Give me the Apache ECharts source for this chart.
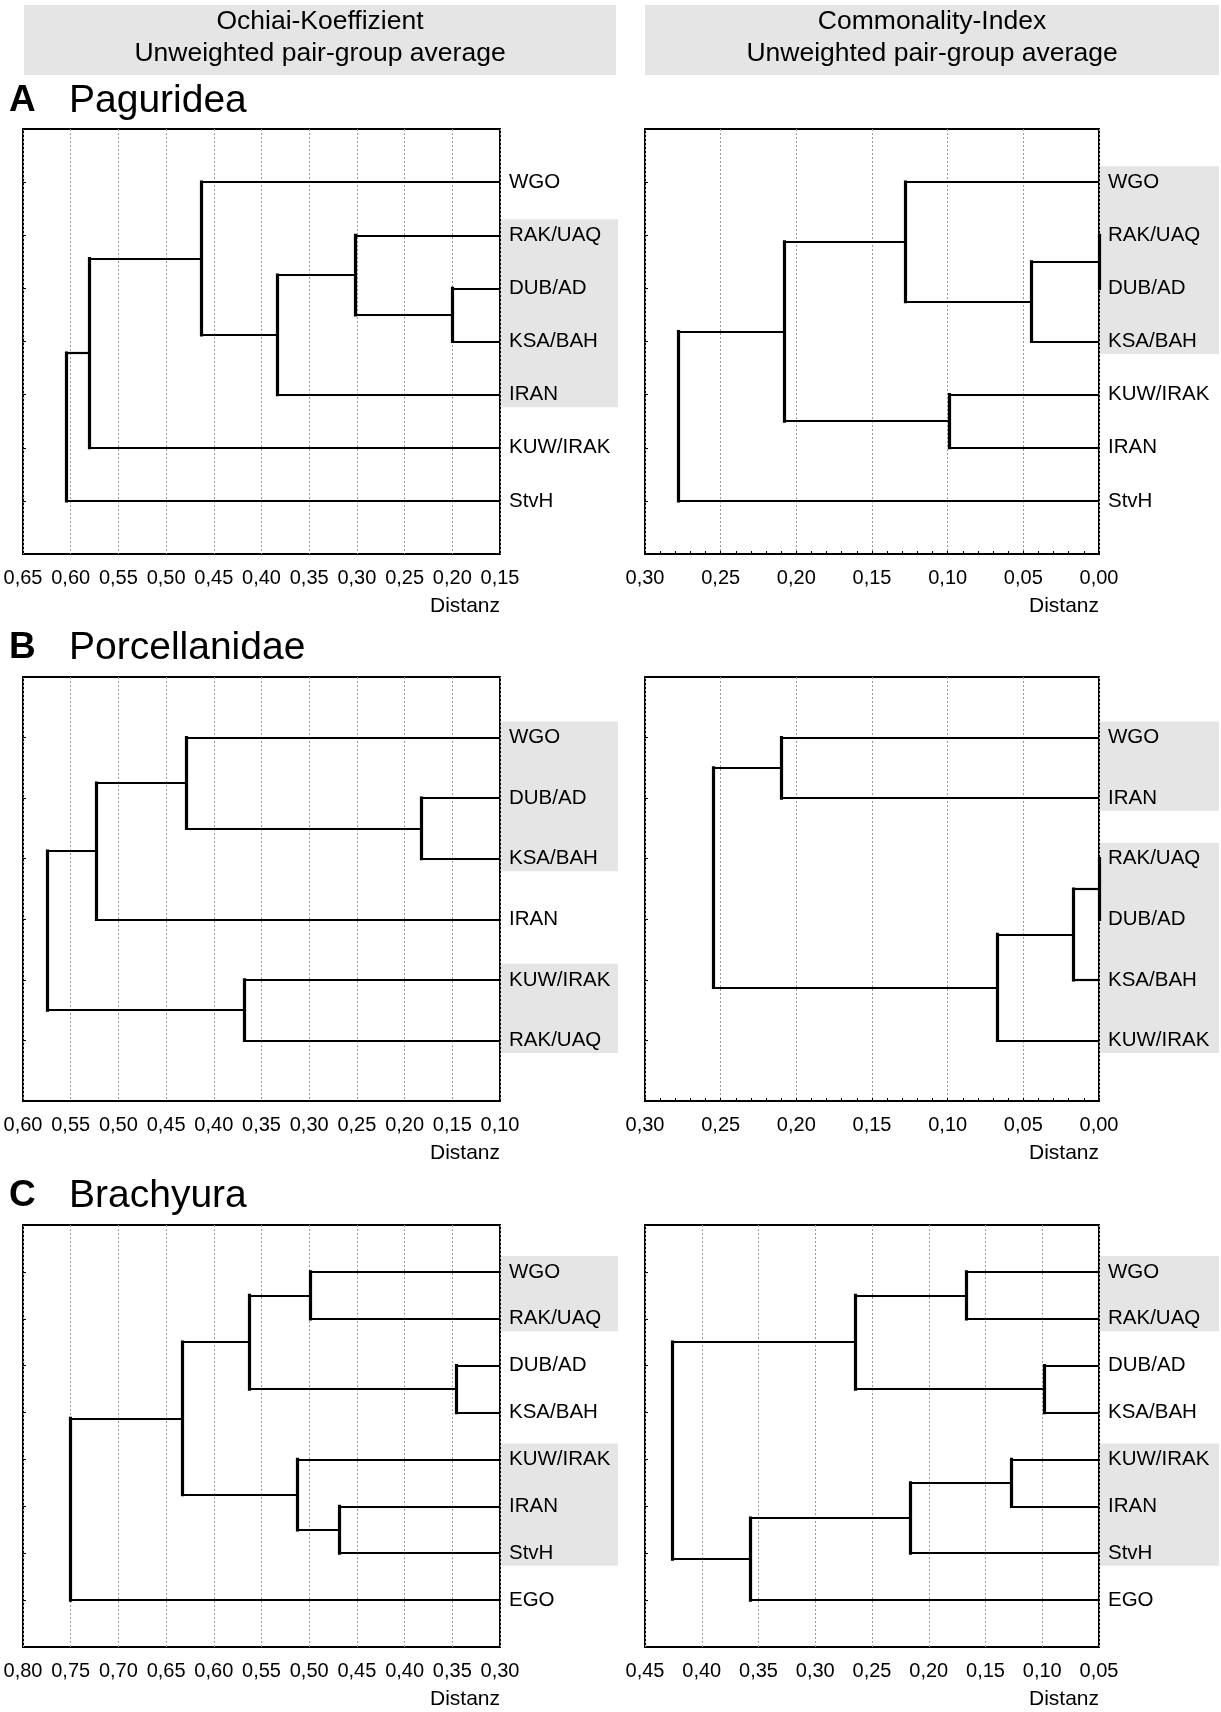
<!DOCTYPE html>
<html>
<head>
<meta charset="utf-8">
<script src="https://cdn.jsdelivr.net/npm/echarts@6/dist/echarts.min.js"></script>
<style>
  html, body { margin: 0; padding: 0; background: #fff; }
  #main { width: 1221px; height: 1712px; }
</style>
</head>
<body>
<div id="main"></div>
<script>
// ---- data: leaves listed top -> bottom, merges refer to leaf names or earlier merge index ----
// A Paguridea, Ochiai
var leavesAL = ['WGO', 'RAK/UAQ', 'DUB/AD', 'KSA/BAH', 'IRAN', 'KUW/IRAK', 'StvH'];
var pairsAL = [['DUB/AD', 'KSA/BAH'], ['RAK/UAQ', 0], [1, 'IRAN'], ['WGO', 2], [3, 'KUW/IRAK'], [4, 'StvH']];
var heightsAL = [0.200, 0.302, 0.383, 0.463, 0.581, 0.605];
var groupsAL = [[1, 4]];
var rangeAL = [0.15, 0.65];

// A Paguridea, Commonality
var leavesAR = ['WGO', 'RAK/UAQ', 'DUB/AD', 'KSA/BAH', 'KUW/IRAK', 'IRAN', 'StvH'];
var pairsAR = [['RAK/UAQ', 'DUB/AD'], [0, 'KSA/BAH'], ['WGO', 1], ['KUW/IRAK', 'IRAN'], [2, 3], [4, 'StvH']];
var heightsAR = [0.000, 0.045, 0.128, 0.099, 0.208, 0.278];
var groupsAR = [[0, 3]];
var rangeAR = [0.00, 0.30];

// B Porcellanidae, Ochiai
var leavesBL = ['WGO', 'DUB/AD', 'KSA/BAH', 'IRAN', 'KUW/IRAK', 'RAK/UAQ'];
var pairsBL = [['DUB/AD', 'KSA/BAH'], ['WGO', 0], [1, 'IRAN'], ['KUW/IRAK', 'RAK/UAQ'], [2, 3]];
var heightsBL = [0.183, 0.429, 0.523, 0.368, 0.575];
var groupsBL = [[0, 2], [4, 5]];
var rangeBL = [0.10, 0.60];

// B Porcellanidae, Commonality
var leavesBR = ['WGO', 'IRAN', 'RAK/UAQ', 'DUB/AD', 'KSA/BAH', 'KUW/IRAK'];
var pairsBR = [['RAK/UAQ', 'DUB/AD'], [0, 'KSA/BAH'], [1, 'KUW/IRAK'], ['WGO', 'IRAN'], [3, 2]];
var heightsBR = [0.000, 0.017, 0.067, 0.210, 0.255];
var groupsBR = [[0, 1], [2, 5]];
var rangeBR = [0.00, 0.30];

// C Brachyura, Ochiai
var leavesCL = ['WGO', 'RAK/UAQ', 'DUB/AD', 'KSA/BAH', 'KUW/IRAK', 'IRAN', 'StvH', 'EGO'];
var pairsCL = [['WGO', 'RAK/UAQ'], ['DUB/AD', 'KSA/BAH'], [0, 1], ['IRAN', 'StvH'], ['KUW/IRAK', 3], [2, 4], [5, 'EGO']];
var heightsCL = [0.499, 0.346, 0.563, 0.469, 0.513, 0.633, 0.750];
var groupsCL = [[0, 1], [4, 6]];
var rangeCL = [0.30, 0.80];

// C Brachyura, Commonality
var leavesCR = ['WGO', 'RAK/UAQ', 'DUB/AD', 'KSA/BAH', 'KUW/IRAK', 'IRAN', 'StvH', 'EGO'];
var pairsCR = [['WGO', 'RAK/UAQ'], ['DUB/AD', 'KSA/BAH'], [0, 1], ['KUW/IRAK', 'IRAN'], [3, 'StvH'], [4, 'EGO'], [2, 5]];
var heightsCR = [0.167, 0.098, 0.265, 0.127, 0.216, 0.357, 0.426];
var groupsCR = [[0, 1], [4, 6]];
var rangeCR = [0.05, 0.45];

var headLeft = ['Ochiai-Koeffizient', 'Unweighted pair-group average'];
var headRight = ['Commonality-Index', 'Unweighted pair-group average'];
var sections = [['A', 'Paguridea'], ['B', 'Porcellanidae'], ['C', 'Brachyura']];
var axisName = 'Distanz';

// ---- layout ----
var FONT = '"Liberation Sans", Arial, Helvetica, sans-serif';
var INK = '#000';
var panels = [
  { leaves: leavesAL, pairs: pairsAL, heights: heightsAL, groups: groupsAL, range: rangeAL, left: 23, width: 477, top: 129, height: 425, labelEnd: 618, minor: false },
  { leaves: leavesAR, pairs: pairsAR, heights: heightsAR, groups: groupsAR, range: rangeAR, left: 645, width: 454, top: 129, height: 425, labelEnd: 1219, minor: true },
  { leaves: leavesBL, pairs: pairsBL, heights: heightsBL, groups: groupsBL, range: rangeBL, left: 23, width: 477, top: 677, height: 424, labelEnd: 618, minor: false },
  { leaves: leavesBR, pairs: pairsBR, heights: heightsBR, groups: groupsBR, range: rangeBR, left: 645, width: 454, top: 677, height: 424, labelEnd: 1219, minor: true },
  { leaves: leavesCL, pairs: pairsCL, heights: heightsCL, groups: groupsCL, range: rangeCL, left: 23, width: 477, top: 1225, height: 422, labelEnd: 618, minor: false },
  { leaves: leavesCR, pairs: pairsCR, heights: heightsCR, groups: groupsCR, range: rangeCR, left: 645, width: 454, top: 1225, height: 422, labelEnd: 1219, minor: false }
];
var sectionY = [101, 648, 1196];

function buildTree(leaves, pairs, heights, leafX) {
  var nodes = leaves.map(function (n, i) { return { x: leafX, y: i + 1 }; });
  var merged = [];
  var hSegs = [], vSegs = [];
  pairs.forEach(function (p, k) {
    var kids = p.map(function (c) {
      return typeof c === 'number' ? merged[c] : nodes[leaves.indexOf(c)];
    });
    var h = heights[k];
    kids.forEach(function (c) {
      hSegs.push({ coords: [[h, c.y], [c.x, c.y]] });
    });
    vSegs.push({ coords: [[h, kids[0].y], [h, kids[1].y]] });
    merged.push({ x: h, y: (kids[0].y + kids[1].y) / 2 });
  });
  return { h: hSegs, v: vSegs };
}

var grids = [], xAxes = [], yAxes = [], series = [];
panels.forEach(function (p, i) {
  var n = p.leaves.length;
  grids.push({
    left: p.left, top: p.top, width: p.width, height: p.height,
    show: true, borderColor: '#000', borderWidth: 2, backgroundColor: 'transparent'
  });
  xAxes.push({
    type: 'value', gridIndex: i, inverse: true, position: 'bottom',
    min: p.range[0], max: p.range[1], interval: 0.05,
    axisLine: { show: false, onZero: false },
    axisTick: { show: p.minor, inside: true, length: 3, lineStyle: { color: '#000' } },
    minorTick: { show: p.minor, splitNumber: 5, length: 3, lineStyle: { color: '#000', width: 1 } },
    axisLabel: {
      margin: 14, color: INK, fontSize: 20, fontFamily: FONT,
      formatter: function (v) { return v.toFixed(2).replace('.', ','); }
    },
    splitLine: { show: true, lineStyle: { color: '#999', width: 1, type: [2, 2] } }
  });
  yAxes.push({
    type: 'value', gridIndex: i, inverse: true, position: 'left',
    min: 0, max: n + 1, interval: 1,
    axisLine: { show: false, onZero: false },
    axisTick: { show: true, inside: true, length: 3, lineStyle: { color: '#000' } },
    axisLabel: { show: false },
    splitLine: { show: false }
  });
  yAxes.push({
    type: 'value', gridIndex: i, inverse: true, position: 'right',
    min: 0, max: n + 1, interval: 1,
    axisLine: { show: false, onZero: false },
    axisTick: { show: false },
    axisLabel: {
      margin: 9, color: INK, fontSize: 20.5, fontFamily: FONT,
      formatter: function (v) { return p.leaves[v - 1] || ''; }
    },
    splitLine: { show: false }
  });
  var tree = buildTree(p.leaves, p.pairs, p.heights, p.range[0]);
  series.push({
    type: 'lines', coordinateSystem: 'cartesian2d', xAxisIndex: i, yAxisIndex: 2 * i,
    silent: true, z: 3, data: tree.h,
    lineStyle: { color: '#000', width: 2.2, opacity: 1, curveness: 0 }
  });
  series.push({
    type: 'lines', coordinateSystem: 'cartesian2d', xAxisIndex: i, yAxisIndex: 2 * i,
    silent: true, z: 4, data: tree.v,
    lineStyle: { color: '#000', width: 3.2, opacity: 1, curveness: 0, cap: 'square' }
  });
});

var chart = echarts.init(document.getElementById('main'), null, { renderer: 'canvas' });
chart.setOption({
  animation: false,
  backgroundColor: '#fff',
  grid: grids, xAxis: xAxes, yAxis: yAxes, series: series
});

// ---- decorations: header boxes, section titles, axis names, shaded label groups ----
var graphics = [];
function txt(text, x, y, size, align, weight) {
  graphics.push({
    type: 'text', z: 5, silent: true,
    style: {
      text: text, x: x, y: y, fill: INK,
      font: (weight || 'normal') + ' ' + size + 'px ' + FONT,
      align: align, textAlign: align, verticalAlign: 'middle', textVerticalAlign: 'middle'
    }
  });
}
function box(x, y, w, h) {
  graphics.push({ type: 'rect', z: -1, silent: true, shape: { x: x, y: y, width: w, height: h }, style: { fill: '#e5e5e5' } });
}
box(24, 5, 592, 70);
box(645, 5, 574, 70);
txt(headLeft[0], 320, 22, 26.5, 'center');
txt(headLeft[1], 320, 54, 26.5, 'center');
txt(headRight[0], 932, 22, 26.5, 'center');
txt(headRight[1], 932, 54, 26.5, 'center');
sections.forEach(function (s, k) {
  txt(s[0], 9, sectionY[k], 37, 'left', 'bold');
  txt(s[1], 69, sectionY[k], 39, 'left');
});
panels.forEach(function (p, i) {
  var right = p.left + p.width;
  txt(axisName, right, p.top + p.height + 52, 21, 'right');
  p.groups.forEach(function (g) {
    var y0 = chart.convertToPixel({ yAxisIndex: 2 * i }, g[0] + 1) - 16;
    var y1 = chart.convertToPixel({ yAxisIndex: 2 * i }, g[1] + 1) + 12.5;
    box(right, y0, p.labelEnd - right, y1 - y0);
  });
});
chart.setOption({ graphic: { elements: graphics } });
</script>
</body>
</html>
